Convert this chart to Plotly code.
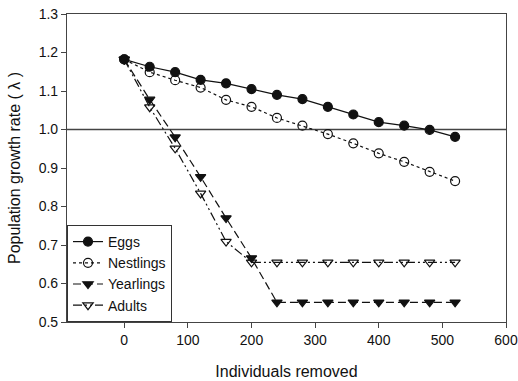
import plotly.graph_objects as go

# Individuals removed from each stage class
removed = [0, 40, 80, 120, 160, 200, 240, 280, 320, 360, 400, 440, 480, 520]

# Population growth rate (lambda) under removal of each stage
eggs = [1.182, 1.163, 1.149, 1.129, 1.120, 1.105, 1.090, 1.079, 1.059, 1.039, 1.019, 1.010, 0.999, 0.981]
nestlings = [1.182, 1.149, 1.128, 1.109, 1.077, 1.059, 1.030, 1.010, 0.988, 0.964, 0.938, 0.916, 0.890, 0.866]
yearlings = [1.182, 1.078, 0.980, 0.877, 0.770, 0.666, 0.551, 0.551, 0.551, 0.551, 0.551, 0.551, 0.551, 0.551]
adults = [1.182, 1.058, 0.951, 0.834, 0.709, 0.655, 0.655, 0.655, 0.655, 0.655, 0.655, 0.655, 0.655, 0.655]

x_ticks = [0, 100, 200, 300, 400, 500, 600]
y_ticks = [0.5, 0.6, 0.7, 0.8, 0.9, 1.0, 1.1, 1.2, 1.3]

FONT = "Liberation Sans, Arial, sans-serif"
INK = "#111111"

fig = go.Figure()

series = [
    ("Eggs", eggs, "solid", "circle", INK),
    ("Nestlings", nestlings, "dot", "circle-open", INK),
    ("Yearlings", yearlings, "8px,4px", "triangle-down", INK),
    ("Adults", adults, "9px,3px,2px,3px,2px,3px", "triangle-down-open", INK),
]
for name, vals, dash, sym, col in series:
    fig.add_trace(go.Scatter(
        x=removed, y=vals, name=name, mode="lines+markers",
        line=dict(color=INK, width=1.2, dash=dash),
        marker=dict(symbol=sym, size=9, color=col,
                    line=dict(color=INK, width=1.2)),
    ))

# Reference line at lambda = 1
fig.add_shape(type="line", xref="paper", x0=0, x1=1, yref="y", y0=1.0, y1=1.0,
              line=dict(color="#444444", width=1.5), layer="below")

fig.update_layout(
    width=518, height=381,
    margin=dict(l=67, r=12, t=14, b=59),
    paper_bgcolor="white", plot_bgcolor="white",
    font=dict(family=FONT, size=13, color=INK),
    showlegend=True,
    legend=dict(
        x=0, y=0, xanchor="left", yanchor="bottom",
        bgcolor="white", bordercolor="#333333", borderwidth=1,
        font=dict(family=FONT, size=14, color=INK),
        tracegroupgap=0, itemwidth=30,
    ),
    xaxis=dict(
        range=[-90, 600], tickvals=x_ticks, ticktext=[str(v) for v in x_ticks],
        showgrid=False, zeroline=False, automargin=False,
        showline=True, linecolor="#444444", linewidth=1.2, mirror=True,
        ticks="outside", ticklen=5, tickcolor="#444444",
        tickfont=dict(size=14),
        title=dict(text="Individuals removed", font=dict(size=16), standoff=18),
    ),
    yaxis=dict(
        range=[0.5, 1.3], tickvals=y_ticks, ticktext=[f"{v:.1f}" for v in y_ticks],
        showgrid=False, zeroline=False, automargin=False,
        showline=True, linecolor="#444444", linewidth=1.2, mirror=True,
        ticks="outside", ticklen=5, tickcolor="#444444",
        tickfont=dict(size=14),
        title=dict(text="Population growth rate ( λ )", font=dict(size=16), standoff=14),
    ),
)

fig.write_html("out.html")
